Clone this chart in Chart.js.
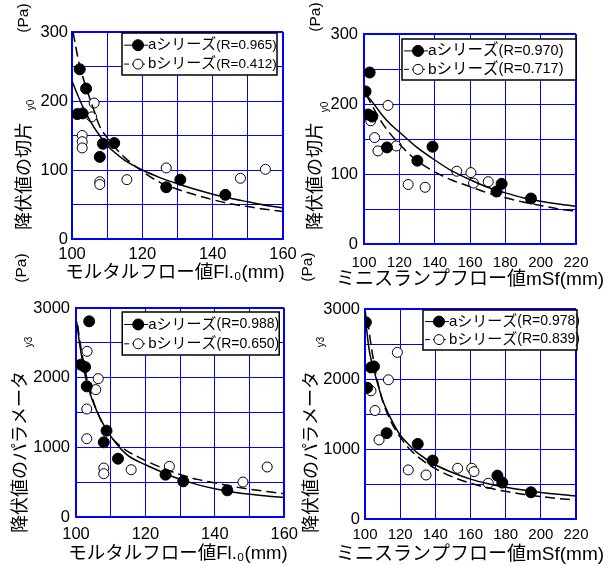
<!DOCTYPE html>
<html>
<head>
<meta charset="utf-8">
<script src="https://cdn.jsdelivr.net/npm/chart.js@4.4.0/dist/chart.umd.min.js"></script>
<style>
  html, body { margin: 0; padding: 0; background: #fff; }
  #wrap { position: relative; width: 613px; height: 566px; overflow: hidden; }
  .panel { position: absolute; }
  canvas { display: block; }
</style>
</head>
<body>
<div id="wrap">
  <div class="panel" style="left:0;top:0"><canvas id="c1" width="306" height="292"></canvas></div>
  <div class="panel" style="left:295px;top:0"><canvas id="c2" width="318" height="292"></canvas></div>
  <div class="panel" style="left:0;top:250px"><canvas id="c3" width="306" height="316"></canvas></div>
  <div class="panel" style="left:295px;top:250px"><canvas id="c4" width="318" height="316"></canvas></div>
</div>
<script>
"use strict";

// --- 左上: 降伏値の切片 vs モルタルフロー値 ---
const p1FlowA = [102.2, 104.0, 101.5, 103.0, 108.8, 107.9, 112.0, 126.8, 130.8, 143.6];
const p1ValA = [246, 218, 181, 182, 138, 119, 139, 75, 86, 64];
const p1FlowB = [106.3, 105.6, 102.9, 102.9, 102.9, 107.9, 107.9, 115.6, 126.8, 147.9, 155.0];
const p1ValB = [197, 177, 150, 141, 132, 83, 79, 86, 103, 88, 101];
const p1FitXA = [100, 102, 104, 106, 108, 110, 112, 115, 120, 125, 130, 135, 140, 145, 150, 155, 160];
const p1FitA = [229, 204, 182, 164, 149, 136, 126, 114, 100, 89, 80, 72, 65, 59, 54, 49, 45];
const p1FitXB = [100.3, 102, 104, 106, 108, 110, 112, 115, 120, 125, 130, 135, 140, 145, 150, 155, 160];
const p1FitB = [300, 255, 220, 190, 162, 147, 134, 118, 98, 82, 72, 64, 57, 51, 47, 43, 40];

// --- 右上: 降伏値の切片 vs ミニスランプフロー値 ---
const p2FlowA = [103.2, 100.9, 102.3, 104.7, 113.0, 138.8, 130.2, 175.0, 177.9, 194.5];
const p2ValA = [245, 218, 185, 182, 138, 139, 119, 75, 86, 65];
const p2FlowB = [113.6, 103.8, 106.0, 107.9, 118.3, 125.0, 134.6, 152.5, 160.5, 162.0, 170.3];
const p2ValB = [198, 176, 152, 133, 140, 85, 81, 104, 102, 87, 89];
const p2FitXA = [101, 105, 110, 115, 120, 130, 140, 150, 160, 170, 180, 190, 200, 210, 220];
const p2FitA = [214, 202, 185, 171, 160, 138, 120, 104, 92, 81, 73, 66, 61, 57, 54];
const p2FitXB = [101, 105, 110, 115, 120, 125, 130, 140, 150, 160, 170, 180, 190, 200, 210, 220];
const p2FitB = [214, 196, 174, 157, 143, 130, 119, 103, 91, 82, 73, 66, 60, 55, 50, 47];

// --- 左下: 降伏値のパラメータ vs モルタルフロー値 ---
const p3FlowA = [103.8, 101.4, 102.6, 103.1, 108.8, 108.0, 112.1, 125.8, 130.9, 143.6];
const p3ValA = [2809, 2187, 2153, 1876, 1239, 1072, 837, 608, 512, 383];
const p3FlowB = [103.2, 106.4, 105.7, 103.1, 103.1, 108.0, 108.0, 115.9, 126.9, 148.1, 155.1];
const p3ValB = [2378, 1986, 1828, 1550, 1124, 703, 622, 679, 727, 502, 718];
const p3FitXA = [100.2, 101, 102, 103, 104, 105, 106, 108, 110, 112, 115, 120, 125, 130, 135, 140, 145, 150, 155, 160];
const p3FitA = [2800, 2500, 2200, 1950, 1780, 1640, 1520, 1320, 1160, 1030, 880, 750, 640, 540, 465, 405, 360, 325, 300, 280];
const p3FitXB = [100.5, 101, 102, 103, 104, 105, 106, 108, 110, 112, 115, 118, 120, 125, 130, 135, 140, 145, 150, 155, 160];
const p3FitB = [2750, 2560, 2270, 2020, 1820, 1660, 1520, 1310, 1160, 1050, 940, 860, 810, 700, 610, 540, 490, 440, 400, 365, 335];

// --- 右下: 降伏値のパラメータ vs ミニスランプフロー値 ---
const p4FlowA = [100.5, 103.4, 105.1, 101.2, 112.3, 130.0, 138.5, 175.3, 178.1, 194.4];
const p4ValA = [2810, 2165, 2179, 1875, 1226, 1073, 835, 620, 520, 382];
const p4FlowB = [118.4, 113.3, 103.4, 105.7, 108.0, 124.6, 134.7, 152.7, 160.7, 162.0, 170.1];
const p4ValB = [2380, 1989, 1831, 1550, 1130, 701, 629, 725, 725, 677, 510];
const p4FitXA = [100.3, 101, 102, 103, 105, 107, 110, 115, 120, 125, 130, 140, 150, 160, 170, 180, 190, 200, 210, 220];
const p4FitA = [2950, 2700, 2480, 2330, 2130, 1950, 1700, 1420, 1200, 1060, 940, 775, 660, 570, 505, 455, 415, 380, 352, 330];
const p4FitXB = [101.5, 102, 103, 105, 107, 110, 115, 120, 125, 130, 140, 150, 160, 170, 180, 190, 200, 210, 220];
const p4FitB = [2850, 2750, 2560, 2240, 1980, 1690, 1380, 1170, 1010, 890, 720, 600, 510, 445, 395, 352, 320, 293, 272];

const seriesNames = ["aシリーズ", "bシリーズ"];
const rValuesA = ["(R=0.965)", "(R=0.970)", "(R=0.988)", "(R=0.978)"];
const rValuesB = ["(R=0.412)", "(R=0.717)", "(R=0.650)", "(R=0.839)"];

const xTitles = ["モルタルフロー値Fl.₀(mm)", "ミニスランプフロー値mSf(mm)"];
const yTitles = ["降伏値の切片", "降伏値のパラメータ"];
const ySubs = ["y0", "y3"];

const FONT = "'Liberation Sans', 'Noto Sans CJK JP', sans-serif";
const BLUE = "#0000ff";

const pairs = (xs, ys) => xs.map((x, i) => ({ x: x, y: ys[i] }));

// axis titles, subscript, unit (drawn here so they are not squeezed to the plot width)
const panelText = {
  id: "panelText",
  afterDraw(chart, args, opt) {
    const ctx = chart.ctx;
    const put = (text, x, y, size, align, rotate) => {
      ctx.save();
      ctx.translate(x, y);
      if (rotate) ctx.rotate(-Math.PI / 2);
      ctx.font = size + "px " + FONT;
      ctx.fillStyle = "#000";
      ctx.textAlign = align;
      ctx.textBaseline = "middle";
      ctx.fillText(text, 0, 0);
      ctx.restore();
    };
    put(opt.xTitle, opt.xTitleX, opt.xTitleY, opt.xTitleSize, "center", false);
    put(opt.yTitle, opt.titleX, opt.titleBottom, 18, "left", true);
    put(opt.ySub, opt.subX, opt.subY, 10, "center", true);
    put("(Pa)", opt.unitX, opt.unitY, 15.5, "center", true);
  },
};

// framed legend inside the plot
const boxLegend = {
  id: "boxLegend",
  afterDatasetsDraw(chart, args, opt) {
    const { ctx, chartArea } = chart;
    const x0 = chartArea.right - opt.right - opt.width;
    const y0 = chartArea.top + opt.top;
    ctx.save();
    ctx.fillStyle = "#fff";
    ctx.fillRect(x0, y0, opt.width, opt.height);
    ctx.lineWidth = 1.5;
    ctx.strokeStyle = "#000";
    ctx.strokeRect(x0, y0, opt.width, opt.height);
    opt.items.forEach((it, i) => {
      const pts = chart.data.datasets[it.points];
      const line = chart.data.datasets[it.line];
      const cy = y0 + opt.height * (i === 0 ? 0.29 : 0.74);
      ctx.beginPath();
      ctx.setLineDash(line.borderDash ? [5, 3] : []);
      ctx.lineWidth = 1;
      ctx.strokeStyle = "#000";
      ctx.moveTo(x0 + 2, cy);
      ctx.lineTo(x0 + 26, cy);
      ctx.stroke();
      ctx.setLineDash([]);
      ctx.beginPath();
      ctx.arc(x0 + 16, cy, pts.pointRadius, 0, Math.PI * 2);
      ctx.fillStyle = pts.pointBackgroundColor;
      ctx.fill();
      ctx.lineWidth = pts.pointBorderWidth;
      ctx.stroke();
      ctx.fillStyle = "#000";
      ctx.textAlign = "left";
      ctx.textBaseline = "middle";
      ctx.font = opt.nameSize + "px " + FONT;
      ctx.fillText(it.name, x0 + 26, cy);
      const w = ctx.measureText(it.name).width;
      ctx.font = opt.rSize + "px " + FONT;
      ctx.fillText(it.r, x0 + 26 + w, cy);
    });
    ctx.restore();
  },
};

function makeChart(id, c) {
  const datasets = [
    {
      label: seriesNames[0] + c.rA, data: pairs(c.flowA, c.valA), showLine: false,
      pointRadius: 5.5, pointBackgroundColor: "#000", pointBorderColor: "#000", pointBorderWidth: 1, order: 2,
    },
    {
      label: seriesNames[1] + c.rB, data: pairs(c.flowB, c.valB), showLine: false,
      pointRadius: 5, pointBackgroundColor: "#fff", pointBorderColor: "#000", pointBorderWidth: 1, order: 2,
    },
    {
      label: "fitA", data: pairs(c.fitXA, c.fitA), showLine: true, pointRadius: 0,
      borderColor: "#000", borderWidth: 1.5, cubicInterpolationMode: "monotone", order: 1,
    },
    {
      label: "fitB", data: pairs(c.fitXB, c.fitB), showLine: true, pointRadius: 0,
      borderColor: "#000", borderWidth: 1.5, borderDash: [10, 5], cubicInterpolationMode: "monotone", order: 1,
    },
  ];

  const config = {
    type: "scatter",
    data: { datasets: datasets },
    plugins: [panelText, boxLegend],
    options: {
      responsive: false,
      animation: false,
      events: [],
      layout: { padding: { left: 0, top: c.padTop, right: c.padRight, bottom: 0 } },
      plugins: {
        legend: { display: false },
        tooltip: { enabled: false },
        panelText: Object.assign({ xTitle: c.xTitle }, c.text),
        boxLegend: {
          right: c.legend[0], top: c.legend[1], width: c.legend[2], height: c.legend[3],
          nameSize: c.legendFont[0], rSize: c.legendFont[1],
          items: [
            { points: 0, line: 2, name: seriesNames[0], r: c.rA },
            { points: 1, line: 3, name: seriesNames[1], r: c.rB },
          ],
        },
      },
      scales: {
        x: {
          type: "linear",
          min: c.xMin,
          max: c.xMax,
          afterFit(s) { s.height = c.xAxisH; },
          grid: {
            color: BLUE,
            lineWidth: (ctx) => (ctx.tick && ctx.tick.value === c.xMax ? 2 : 1),
            drawTicks: false,
          },
          border: { color: BLUE, width: 2 },
          ticks: {
            stepSize: c.xStep,
            autoSkip: false,
            maxRotation: 0,
            padding: c.xTickPad,
            color: "#000",
            font: { family: FONT, size: c.xTickSize },
            callback: (v) => (v % c.xLabelStep === 0 ? v : ""),
          },
        },
        y: {
          type: "linear",
          min: 0,
          max: c.yMax,
          afterFit(s) { s.width = c.yAxisW; },
          grid: {
            color: BLUE,
            lineWidth: (ctx) => (ctx.tick && ctx.tick.value === c.yMax ? 2 : 1),
            drawTicks: false,
          },
          border: { color: BLUE, width: 2 },
          ticks: {
            stepSize: c.yStep,
            autoSkip: false,
            padding: c.yTickPad,
            color: "#000",
            font: { family: FONT, size: 16.5 },
            callback: (v) => (v % c.yLabelStep === 0 ? v : ""),
          },
        },
      },
    },
  };
  return new Chart(document.getElementById(id), config);
}

makeChart("c1", {
  flowA: p1FlowA, valA: p1ValA, flowB: p1FlowB, valB: p1ValB,
  fitXA: p1FitXA, fitA: p1FitA, fitXB: p1FitXB, fitB: p1FitB,
  rA: rValuesA[0], rB: rValuesB[0],
  xMin: 100, xMax: 160, xStep: 10, xLabelStep: 20, yMax: 300, yStep: 50, yLabelStep: 100,
  xTitle: xTitles[0], xTickSize: 16.5,
  padTop: 32, padRight: 23, yAxisW: 72, xAxisH: 53, yTickPad: 4, xTickPad: 6,
  legend: [6, 1, 155, 42], legendFont: [15, 13.5],
  text: { xTitleX: 175, xTitleY: 273, xTitleSize: 18.5, yTitle: yTitles[0], titleX: 25, titleBottom: 230, ySub: ySubs[0], subX: 31, subY: 105, unitX: 24, unitY: 18 },
});

makeChart("c2", {
  flowA: p2FlowA, valA: p2ValA, flowB: p2FlowB, valB: p2ValB,
  fitXA: p2FitXA, fitA: p2FitA, fitXB: p2FitXB, fitB: p2FitB,
  rA: rValuesA[1], rB: rValuesB[1],
  xMin: 100, xMax: 220, xStep: 20, xLabelStep: 20, yMax: 300, yStep: 50, yLabelStep: 100,
  xTitle: xTitles[1], xTickSize: 15,
  padTop: 34, padRight: 37, yAxisW: 69, xAxisH: 48, yTickPad: 6, xTickPad: 10,
  legend: [0, 5, 174, 41], legendFont: [15.5, 14.5],
  text: { xTitleX: 175, xTitleY: 280, xTitleSize: 19, yTitle: yTitles[0], titleX: 21, titleBottom: 230, ySub: ySubs[0], subX: 30, subY: 107, unitX: 21, unitY: 17 },
});

makeChart("c3", {
  flowA: p3FlowA, valA: p3ValA, flowB: p3FlowB, valB: p3ValB,
  fitXA: p3FitXA, fitA: p3FitA, fitXB: p3FitXB, fitB: p3FitB,
  rA: rValuesA[2], rB: rValuesB[2],
  xMin: 100, xMax: 160, xStep: 10, xLabelStep: 20, yMax: 3000, yStep: 500, yLabelStep: 1000,
  xTitle: xTitles[0], xTickSize: 16.5,
  padTop: 58, padRight: 20, yAxisW: 76, xAxisH: 49, yTickPad: 6, xTickPad: 8,
  legend: [5, 4, 157, 43], legendFont: [15, 14],
  text: { xTitleX: 178, xTitleY: 304, xTitleSize: 18.5, yTitle: yTitles[1], titleX: 21, titleBottom: 283, ySub: ySubs[1], subX: 29, subY: 92, unitX: 22, unitY: 18 },
});

makeChart("c4", {
  flowA: p4FlowA, valA: p4ValA, flowB: p4FlowB, valB: p4ValB,
  fitXA: p4FitXA, fitA: p4FitA, fitXB: p4FitXB, fitB: p4FitB,
  rA: rValuesA[3], rB: rValuesB[3],
  xMin: 100, xMax: 220, xStep: 20, xLabelStep: 20, yMax: 3000, yStep: 500, yLabelStep: 1000,
  xTitle: xTitles[1], xTickSize: 15,
  padTop: 59, padRight: 37, yAxisW: 70, xAxisH: 47, yTickPad: 5, xTickPad: 7,
  legend: [-1, 1, 154, 40], legendFont: [15, 14],
  text: { xTitleX: 175, xTitleY: 305, xTitleSize: 19, yTitle: yTitles[1], titleX: 17, titleBottom: 283, ySub: ySubs[1], subX: 26, subY: 92, unitX: 13, unitY: 17 },
});
</script>
</body>
</html>
